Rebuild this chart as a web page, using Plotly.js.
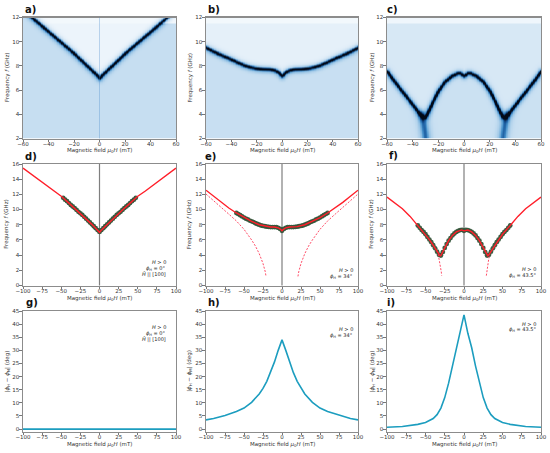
<!DOCTYPE html>
<html><head><meta charset="utf-8">
<script src="https://cdn.plot.ly/plotly-3.0.1.min.js"></script>
<style>html,body{margin:0;padding:0;background:#fff;}#chart{width:550px;height:453px;}</style>
</head><body><div id="chart"></div>
<script>
// ---------- data ----------
// heatmap ridge lines (field mT, frequency GHz)
const a_ridgeH = [-60,-55,-50,-45,-40,-35,-30,-25,-20,-15,-10,-5,-2,0,2,5,10,15,20,25,30,35,40,45,50,55,60];
const a_ridgeF = [12.65,12.2,11.75,11.3,10.85,10.4,9.95,9.5,9.05,8.55,8.05,7.55,7.25,7.0,7.25,7.55,8.05,8.55,9.05,9.5,9.95,10.4,10.85,11.3,11.75,12.2,12.65];
const b_ridgeH = [-60,-55,-50,-45,-40,-35,-30,-25,-20,-15,-10,-6,-3,-1,0,1,3,6,10,15,20,25,30,35,40,45,50,55,60];
const b_ridgeF = [9.52,9.25,9.0,8.78,8.55,8.3,8.07,7.9,7.8,7.75,7.73,7.65,7.5,7.3,7.2,7.3,7.5,7.65,7.73,7.75,7.8,7.9,8.07,8.3,8.55,8.78,9.0,9.25,9.52];
const c_ridgeH = [-60,-50,-40,-35,-32,-30,-28,-25,-20,-15,-10,-5,-3,0,3,5,10,15,20,25,28,30,32,35,40,50,60];
const c_ridgeF = [7.55,6.15,4.8,4.1,3.75,3.8,4.2,4.9,5.95,6.7,7.15,7.4,7.4,7.2,7.4,7.4,7.15,6.7,5.95,4.9,4.2,3.8,3.75,4.1,4.8,6.15,7.55];
const c_fanLeftH = [-33,-31.5,-30.5,-30];
const c_fanLeftF = [4.0,3.1,2.4,1.9];
const c_fanRightH = [30,30.5,31.5,33];
const c_fanRightF = [1.9,2.4,3.1,4.0];

// measured points (d, e, f)
const d_dataH = [-47.5,-45,-42.5,-40,-37.5,-35,-32.5,-30,-27.5,-25,-22.5,-20,-17.5,-15,-12.5,-10,-7.5,-5,-2.5,0,2.5,5,7.5,10,12.5,15,17.5,20,22.5,25,27.5,30,32.5,35,37.5,40,42.5,45,47.5];
const d_dataF = [11.55,11.3,11.1,10.85,10.6,10.4,10.2,9.95,9.7,9.5,9.3,9.05,8.8,8.55,8.3,8.05,7.8,7.55,7.3,7.05,7.3,7.55,7.8,8.05,8.3,8.55,8.8,9.05,9.3,9.5,9.7,9.95,10.2,10.4,10.6,10.85,11.1,11.3,11.55];
const e_dataH = [-60,-57.5,-55,-52.5,-50,-47.5,-45,-42.5,-40,-37.5,-35,-32.5,-30,-27.5,-25,-22.5,-20,-17.5,-15,-12.5,-10,-7.5,-5,-2.5,0,2.5,5,7.5,10,12.5,15,17.5,20,22.5,25,27.5,30,32.5,35,37.5,40,42.5,45,47.5,50,52.5,55,57.5,60];
const e_dataF = [9.55,9.4,9.25,9.1,8.95,8.8,8.7,8.55,8.45,8.35,8.2,8.1,8.0,7.9,7.85,7.8,7.75,7.72,7.7,7.7,7.7,7.68,7.6,7.45,7.2,7.45,7.6,7.68,7.7,7.7,7.7,7.72,7.75,7.8,7.85,7.9,8.0,8.1,8.2,8.35,8.45,8.55,8.7,8.8,8.95,9.1,9.25,9.4,9.55];
const f_dataH = e_dataH;
const f_dataF = [7.9,7.6,7.3,7.05,6.75,6.4,6.05,5.7,5.3,4.9,4.45,4.05,3.95,4.4,4.95,5.45,5.9,6.25,6.6,6.85,7.05,7.2,7.3,7.32,7.2,7.32,7.3,7.2,7.05,6.85,6.6,6.25,5.9,5.45,4.95,4.4,3.95,4.05,4.45,4.9,5.3,5.7,6.05,6.4,6.75,7.05,7.3,7.6,7.9];

// model curves (d, e, f)
const d_modelH = [-100,-90,-80,-70,-60,-50,-40,-30,-20,-10,-5,-2,0,2,5,10,20,30,40,50,60,70,80,90,100];
const d_modelF = [15.45,14.7,13.95,13.2,12.45,11.75,10.85,9.95,9.05,8.05,7.55,7.25,7.0,7.25,7.55,8.05,9.05,9.95,10.85,11.75,12.45,13.2,13.95,14.7,15.45];
const e_modelH = [-100,-90,-80,-70,-60,-50,-40,-30,-20,-15,-10,-5,-2,0,2,5,10,15,20,30,40,50,60,70,80,90,100];
const e_modelF = [12.55,11.75,10.95,10.2,9.55,8.95,8.45,8.0,7.75,7.7,7.7,7.6,7.4,7.2,7.4,7.6,7.7,7.7,7.75,8.0,8.45,8.95,9.55,10.2,10.95,11.75,12.55];
const e_dashLH = [-100,-90,-80,-70,-60,-50,-40,-35,-30,-25,-22,-21];
const e_dashLF = [12.05,11.2,10.3,9.4,8.5,7.4,6.0,5.2,4.2,2.9,1.8,1.2];
const e_dashRH = [21,22,25,30,35,40,50,60,70,80,90,100];
const e_dashRF = [1.2,1.8,2.9,4.2,5.2,6.0,7.4,8.5,9.4,10.3,11.2,12.05];
const f_modelH = [-100,-90,-80,-70,-60,-50,-45,-40,-35,-32,-31,-30,-28,-25,-20,-15,-10,-5,-3,0,3,5,10,15,20,25,28,30,31,32,35,40,45,50,60,70,80,90,100];
const f_modelF = [11.65,10.9,10.1,9.1,7.9,6.75,6.05,5.3,4.45,4.0,3.9,3.95,4.3,4.95,5.9,6.6,7.05,7.3,7.32,7.2,7.32,7.3,7.05,6.6,5.9,4.95,4.3,3.95,3.9,4.0,4.45,5.3,6.05,6.75,7.9,9.1,10.1,10.9,11.65];
const f_dashLH = [-33.5,-32,-30.5,-29.5,-29];
const f_dashLF = [4.1,3.4,2.5,1.8,1.3];
const f_dashRH = [29,29.5,30.5,32,33.5];
const f_dashRF = [1.3,1.8,2.5,3.4,4.1];

// angle difference (g, h, i)
const g_H = [-100,-50,0,50,100];
const g_V = [0,0,0,0,0];
const h_H = [-100,-90,-75,-60,-50,-40,-30,-25,-20,-15,-10,-5,0,5,10,15,20,25,30,40,50,60,75,90,100];
const h_V = [3.5,4.0,5.2,6.7,8.0,10.2,13.4,15.5,18.2,21.5,25.5,30,34,30,25.5,21.5,18.2,15.5,13.4,10.2,8.0,6.7,5.2,4.0,3.5];
const i_H = [-100,-80,-60,-50,-40,-35,-30,-25,-20,-15,-10,-5,0,5,10,15,20,25,30,35,40,50,60,80,100];
const i_V = [0.7,1.0,1.8,2.5,4.0,5.5,8.0,12.0,17.5,24.0,31.0,36.5,43.5,36.5,31.0,24.0,17.5,12.0,8.0,5.5,4.0,2.5,1.8,1.0,0.7];

// tick labels
const ticksHeatX = [-60,-40,-20,0,20,40,60];
const ticksHeatY = [2,4,6,8,10,12];
const ticksFieldX = [-100,-75,-50,-25,0,25,50,75,100];
const ticksFreqY = [0,2,4,6,8,10,12,14,16];
const ticksAngY = [0,5,10,15,20,25,30,35,40,45];

// ---------- helpers ----------
const W = 550, H = 453;
function interp(hs, fs, x){
  if (x <= hs[0]) return fs[0];
  for (let i=1;i<hs.length;i++){ if (x <= hs[i]) { const t=(x-hs[i-1])/(hs[i]-hs[i-1]); return fs[i-1]+t*(fs[i]-fs[i-1]); } }
  return fs[fs.length-1];
}
function distPoly(px, py, hs, fs, sx, sy){
  let best = 1e9;
  for (let i=1;i<hs.length;i++){
    const ax=hs[i-1]*sx, ay=fs[i-1]*sy, bx=hs[i]*sx, by=fs[i]*sy;
    const vx=bx-ax, vy=by-ay, L=vx*vx+vy*vy;
    let t = L>0 ? ((px-ax)*vx+(py-ay)*vy)/L : 0; t=Math.max(0,Math.min(1,t));
    const dx=px-(ax+t*vx), dy=py-(ay+t*vy); const d=dx*dx+dy*dy;
    if (d<best) best=d;
  }
  return Math.sqrt(best);
}
function buildHeat(ridges, mainH, mainF, bg){
  const xs=[], ys=[], z=[];
  for (let x=-60;x<=60.001;x+=0.5) xs.push(x);
  for (let y=2;y<=12.001;y+=0.05) ys.push(+y.toFixed(2));
  const sx=153/120, sy=121/10;
  for (const y of ys){
    const row=[];
    for (const x of xs){
      const r = interp(mainH, mainF, x);
      let v = y>r ? (y>11.5 ? bg.top : bg.above) : (y>11.5 && x>0 ? bg.top : bg.below);
      let add = 0;
      for (const rd of ridges){
        const d = distPoly(x*sx, y*sy, rd.h, rd.f, sx, sy);
        add += rd.amp*Math.exp(-d*d/(2*rd.s*rd.s)) + rd.halo*Math.exp(-d*d/(2*rd.hs*rd.hs));
      }
      row.push(Math.min(1, v+add));
    }
    z.push(row);
  }
  return {x:xs, y:ys, z:z};
}

const blues = [[0,'#ffffff'],[0.06,'#ecf4fb'],[0.22,'#c6def1'],[0.4,'#85b9e0'],[0.55,'#4690ca'],[0.7,'#1c5da0'],[0.85,'#0a2d5c'],[1,'#020a18']];
const ridgeStyle = {amp:0.78, s:1.0, halo:0.3, hs:2.6};

const heatA = buildHeat([Object.assign({h:a_ridgeH,f:a_ridgeF},ridgeStyle)], a_ridgeH, a_ridgeF, {top:0.04, above:0.06, below:0.22});
const heatB = buildHeat([Object.assign({h:b_ridgeH,f:b_ridgeF},ridgeStyle)], b_ridgeH, b_ridgeF, {top:0.04, above:0.09, below:0.21});
const heatC = buildHeat([
  Object.assign({h:c_ridgeH,f:c_ridgeF},ridgeStyle),
  {h:c_fanLeftH,f:c_fanLeftF,amp:0.3,s:2.2,halo:0.18,hs:4.5},
  {h:c_fanRightH,f:c_fanRightF,amp:0.3,s:2.2,halo:0.18,hs:4.5}
], c_ridgeH, c_ridgeF, {top:0.05, above:0.15, below:0.2});

// ---------- traces ----------
const red = '#ff1f2a', teal = '#1c9dbf', dashRed = 'rgba(255,45,75,0.85)';
const mk = {size:4.8, color:'#34553a', opacity:0.95, line:{width:0}};
const traces = [
  {type:'heatmap', x:heatA.x, y:heatA.y, z:heatA.z, colorscale:blues, zmin:0, zmax:1, showscale:false, zsmooth:'best', xaxis:'x', yaxis:'y'},
  {type:'heatmap', x:heatB.x, y:heatB.y, z:heatB.z, colorscale:blues, zmin:0, zmax:1, showscale:false, zsmooth:'best', xaxis:'x2', yaxis:'y2'},
  {type:'heatmap', x:heatC.x, y:heatC.y, z:heatC.z, colorscale:blues, zmin:0, zmax:1, showscale:false, zsmooth:'best', xaxis:'x3', yaxis:'y3'},
  {type:'scatter', mode:'markers', x:d_dataH, y:d_dataF, marker:mk, xaxis:'x4', yaxis:'y4'},
  {type:'scatter', mode:'lines', x:d_modelH, y:d_modelF, line:{color:red,width:1.4}, xaxis:'x4', yaxis:'y4'},
  {type:'scatter', mode:'markers', x:e_dataH, y:e_dataF, marker:mk, xaxis:'x5', yaxis:'y5'},
  {type:'scatter', mode:'lines', x:e_modelH, y:e_modelF, line:{color:red,width:1.4}, xaxis:'x5', yaxis:'y5'},
  {type:'scatter', mode:'lines', x:e_dashLH, y:e_dashLF, line:{color:dashRed,width:1,dash:'2px,1.5px'}, xaxis:'x5', yaxis:'y5'},
  {type:'scatter', mode:'lines', x:e_dashRH, y:e_dashRF, line:{color:dashRed,width:1,dash:'2px,1.5px'}, xaxis:'x5', yaxis:'y5'},
  {type:'scatter', mode:'markers', x:f_dataH, y:f_dataF, marker:mk, xaxis:'x6', yaxis:'y6'},
  {type:'scatter', mode:'lines', x:f_modelH, y:f_modelF, line:{color:red,width:1.4}, xaxis:'x6', yaxis:'y6'},
  {type:'scatter', mode:'lines', x:f_dashLH, y:f_dashLF, line:{color:dashRed,width:1,dash:'2px,1.5px'}, xaxis:'x6', yaxis:'y6'},
  {type:'scatter', mode:'lines', x:f_dashRH, y:f_dashRF, line:{color:dashRed,width:1,dash:'2px,1.5px'}, xaxis:'x6', yaxis:'y6'},
  {type:'scatter', mode:'lines', x:g_H, y:g_V, line:{color:teal,width:1.6}, xaxis:'x7', yaxis:'y7'},
  {type:'scatter', mode:'lines', x:h_H, y:h_V, line:{color:teal,width:1.6}, xaxis:'x8', yaxis:'y8'},
  {type:'scatter', mode:'lines', x:i_H, y:i_V, line:{color:teal,width:1.6}, xaxis:'x9', yaxis:'y9'}
];

// ---------- layout ----------
const cols = [[23,176],[206,358],[387,541]];
const rows = [[17.5,138.5],[164,285.5],[311,431.7]];
const font = 'DejaVu Sans, sans-serif';
const layout = {width:W, height:H, margin:{l:0,r:0,t:0,b:0}, showlegend:false,
  paper_bgcolor:'#ffffff', plot_bgcolor:'#ffffff', font:{family:font, size:5.5, color:'#333'},
  annotations:[], shapes:[]};
const axBase = {showline:true, mirror:true, linecolor:'#8c8c8c', linewidth:1.2, ticks:'outside', ticklen:2.5, tickwidth:0.8, tickcolor:'#555',
  ticklabelstandoff:-3, showgrid:false, zeroline:false, tickfont:{size:5.5, color:'#333', family:font}, fixedrange:true};
for (let r=0;r<3;r++) for (let c=0;c<3;c++){
  const k = r*3+c+1, s = k===1?'':String(k);
  const xa = Object.assign({}, axBase, {domain:[cols[c][0]/W, cols[c][1]/W], anchor:'y'+s});
  const ya = Object.assign({}, axBase, {domain:[1-rows[r][1]/H, 1-rows[r][0]/H], anchor:'x'+s, ticklabelstandoff:-1});
  if (r===0){ xa.range=[-60,60]; xa.tickvals=ticksHeatX; ya.range=[2,12]; ya.tickvals=ticksHeatY; }
  else { xa.range=[-100,100]; xa.tickvals=ticksFieldX; }
  if (r===1){ ya.range=[0,16]; ya.tickvals=ticksFreqY; }
  if (r===2){ ya.range=[-1,45]; ya.tickvals=ticksAngY; }
  layout['xaxis'+s]=xa; layout['yaxis'+s]=ya;
  // axis titles
  const cx = (cols[c][0]+cols[c][1])/2/W;
  const xTitleY = [150, 298.5, 444.5][r];
  layout.annotations.push({text:'Magnetic field <i>μ</i><sub>0</sub><i>H</i> (mT)', x:cx, y:1-xTitleY/H, xref:'paper', yref:'paper', showarrow:false, xanchor:'center', yanchor:'middle', font:{size:5.5,color:'#333',family:font}});
  const yTitleX = [7, 189.5, 372][c];
  const cy = 1-((rows[r][0]+rows[r][1])/2)/H;
  const yText = r===2 ? '|<i>ϕ</i><sub>H</sub> − <i>ϕ</i><sub>M</sub>| (deg)' : 'Frequency <i>f</i> (GHz)';
  layout.annotations.push({text:yText, x:yTitleX/W, y:cy, xref:'paper', yref:'paper', showarrow:false, textangle:-90, xanchor:'center', yanchor:'middle', font:{size:5.5,color:'#333',family:font}});
}
// panel labels
const labels = [['a)',23,9.5],['b)',206,9.5],['c)',385,9.5],['d)',23,156],['e)',203,156],['f)',387,155],['g)',24,302],['h)',206,302],['i)',385,302]];
for (const [t,x,y] of labels) layout.annotations.push({text:'<b>'+t+'</b>', x:x/W, y:1-y/H, xref:'paper', yref:'paper', showarrow:false, xanchor:'left', yanchor:'middle', font:{size:10,color:'#111',family:font}});
// inset texts
const insets = [
  ['<i>H</i> > 0',168,262],['<i>ϕ</i><sub>H</sub> = 0°',168,268],['<i>Ĥ</i> || [100]',168,274.5],
  ['<i>H</i> > 0',355,270],['<i>ϕ</i><sub>H</sub> = 34°',355,276],
  ['<i>H</i> > 0',538,269],['<i>ϕ</i><sub>H</sub> = 43.5°',538,275],
  ['<i>H</i> > 0',168,327],['<i>ϕ</i><sub>H</sub> = 0°',168,333],['<i>Ĥ</i> || [100]',168,339],
  ['<i>H</i> > 0',355,328.5],['<i>ϕ</i><sub>H</sub> = 34°',355,335],
  ['<i>H</i> > 0',538,323.5],['<i>ϕ</i><sub>H</sub> = 43.5°',538,329.5]
];
for (const [t,x,y] of insets) layout.annotations.push({text:t, x:x/W, y:1-y/H, xref:'paper', yref:'paper', showarrow:false, xanchor:'right', yanchor:'middle', font:{size:5,color:'#222',family:font}});
// vertical zero lines
for (const k of [4,5,6]) layout.shapes.push({type:'line', xref:'x'+k, yref:'y'+k+' domain', x0:0, x1:0, y0:0, y1:1, line:{color:'#7f7f7f', width:1.2}, layer:'below'});
layout.shapes.push({type:'line', xref:'x', yref:'y domain', x0:0, x1:0, y0:0, y1:1, line:{color:'rgba(60,130,200,0.3)', width:1}});

Plotly.newPlot('chart', traces, layout, {staticPlot:true, displayModeBar:false});
</script></body></html>
